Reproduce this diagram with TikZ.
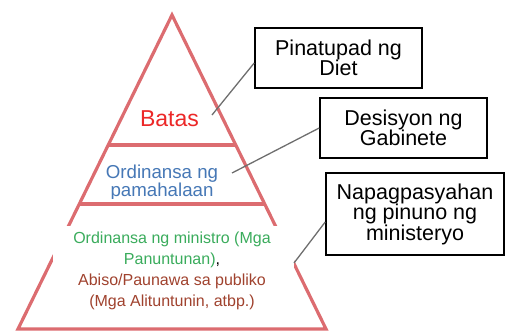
\documentclass[tikz,border=0pt]{standalone}
\usepackage{fontspec}
\usepackage{xcolor}
\setmainfont{Liberation Sans}
\usetikzlibrary{positioning}

\definecolor{pyramid}{RGB}{220,108,112}
\definecolor{batasred}{RGB}{236,40,40}
\definecolor{ordblue}{RGB}{70,120,182}
\definecolor{mingreen}{RGB}{58,172,92}
\definecolor{abisobrown}{RGB}{160,66,46}
\definecolor{linkgray}{RGB}{110,110,110}

\tikzset{
    labelbox/.style={draw=black, line width=1.6pt, align=center, inner sep=0pt,
        font=\fontsize{21.5}{20.5}\selectfont},
    link/.style={draw=linkgray, line width=1.3pt}
}

\begin{document}
\begin{tikzpicture}[x=1pt,y=-1pt]
    \useasboundingbox (0,0) rectangle (505,335);

    \draw[pyramid, line width=3.2pt] (172,15) -- (326,329) -- (18,329) -- cycle;
    \draw[pyramid, line width=3.2pt] (108.2,145) -- (235.8,145);
    \draw[pyramid, line width=3.2pt] (79.3,204) -- (264.7,204);

    \node[fill=white, text=batasred, font=\fontsize{23}{23}\selectfont,
          minimum width=61pt, minimum height=28pt, inner sep=0pt] at (169.5,119) (batas) {Batas};

    \begin{scope}
        \clip (103,160) rectangle (222,198);
        \fill[white] (103,160) rectangle (222,198);
        \node[text=ordblue, align=center, font=\fontsize{18.7}{18}\selectfont] at (162,183) (pamahalaan) {Ordinansa ng\\pamahalaan};
    \end{scope}

    \fill[white] (53,226) rectangle (294,327);
    \node[align=center, font=\fontsize{16}{21}\selectfont] at (172,271) (ministro)
        {\textcolor{mingreen}{Ordinansa ng ministro (Mga}\\
         \textcolor{mingreen}{Panuntunan)},\\
         \textcolor{abisobrown}{Abiso/Paunawa sa publiko}\\
         \textcolor{abisobrown}{(Mga Alituntunin, atbp.)}};

    \node[labelbox, minimum width=167pt, minimum height=60pt] at (338.5,58) (pinatupad) {Pinatupad ng\\Diet};
    \node[labelbox, minimum width=167pt, minimum height=60pt] at (403.5,128) (desisyon) {Desisyon ng\\Gabinete};
    \node[labelbox, minimum width=178pt, minimum height=82pt] at (415,214) (pinuno) {Napagpasyahan\\ng pinuno ng\\ministeryo};

    \coordinate (batasend) at (212,115);
    \coordinate (ordend) at (232,173);
    \coordinate (minend) at (294,263);
    \draw[link] (batasend) -- ([yshift=-5pt]pinatupad.west);
    \draw[link] (ordend) -- (desisyon.west);
    \draw[link] (minend) -- ([yshift=-8pt]pinuno.west);
\end{tikzpicture}
\end{document}
